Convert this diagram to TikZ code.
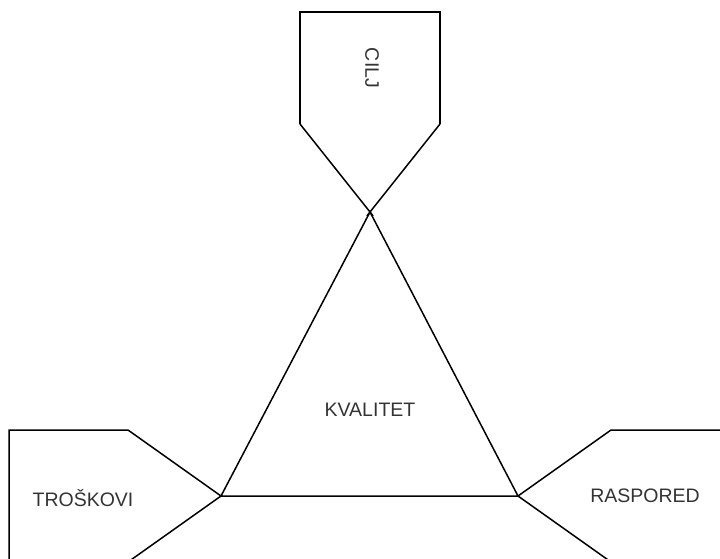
\documentclass[tikz,border=0pt]{standalone}
\usepackage{fontspec}
\setmainfont{Liberation Sans}
\begin{document}
\begin{tikzpicture}[x=1pt,y=-1pt,
  edge/.style={draw=black,line width=1.5pt,line join=miter},
  lbl/.style={font=\fontsize{19.5}{21}\selectfont,text=black!80,inner sep=0pt}]
\useasboundingbox (0,0) rectangle (720,559);
\clip (0,0) rectangle (720,559);
% corners of the central triangle
\coordinate (apex) at (370,212);
\coordinate (bl) at (221,496);
\coordinate (br) at (518,496);
% top pentagon (goal)
\coordinate (t1) at (300,12);
\coordinate (t2) at (440,12);
\coordinate (t3) at (440,124);
\coordinate (t4) at (300,124);
% left pentagon (costs)
\coordinate (l1) at (9,430);
\coordinate (l2) at (128,430);
\coordinate (l3) at (128,562);
\coordinate (l4) at (9,562);
% right pentagon (schedule)
\coordinate (r1) at (611,430);
\coordinate (r2) at (730,430);
\coordinate (r3) at (730,562);
\coordinate (r4) at (611,562);

\draw[edge] (apex) -- (bl) -- (br) -- cycle;
\draw[edge] (t4) -- (t1) -- (t2) -- (t3);
\draw[edge,shorten >=-5pt] (t4) -- (apex);
\draw[edge,shorten >=-5pt] (t3) -- (apex);
\draw[edge] (l3) -- (bl) -- (l2) -- (l1) -- (l4);
\draw[edge] (r4) -- (br) -- (r1) -- (r2);

\node[lbl,rotate=-90] (cilj) at (372,68) {CILJ};
\node[lbl] (kvalitet) at (370,410) {KVALITET};
\node[lbl] (troskovi) at (83,498) {TROŠKOVI};
\node[lbl] (raspored) at (645,496) {RASPORED};
\end{tikzpicture}
\end{document}
